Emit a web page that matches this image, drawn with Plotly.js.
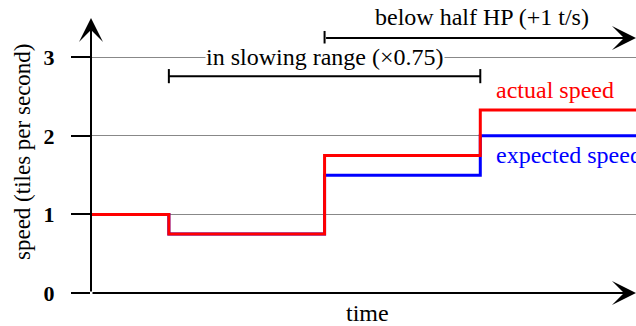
<!DOCTYPE html>
<html><head><meta charset="utf-8">
<script src="https://cdn.plot.ly/plotly-3.0.1.min.js"></script>
<style>html,body{margin:0;padding:0;background:#fff}#chart{width:636px;height:326px}</style>
</head><body><div id="chart"></div>
<script>
var timeSteps = [0, 1, 3, 5, 7];
var actualSpeed = [1, 0.75, 1.75, 2.33, 2.33];
var expectedSpeed = [1, 0.75, 1.5, 2, 2];
var yTicks = [0, 1, 2, 3];
var yTickText = ['0', '1', '2', '3'];
var slowStart = 1, slowEnd = 5;
var halfHpStart = 3, halfHpEnd = 7;

var F = 'Liberation Serif, Times New Roman, serif';
var traces = [
  {x: timeSteps, y: expectedSpeed, mode: 'lines', line: {shape: 'hv', color: '#0000ff', width: 3}, hoverinfo: 'skip'},
  {x: timeSteps, y: actualSpeed, mode: 'lines', line: {shape: 'hv', color: '#ff0000', width: 3}, hoverinfo: 'skip'}
];
var slowY = 2.76, hpY = 3.245, cap = 0.09;
var shapes = [
  {type: 'line', xref: 'x', yref: 'y', x0: slowStart, x1: slowEnd, y0: slowY, y1: slowY, line: {color: '#000', width: 2}},
  {type: 'line', xref: 'x', yref: 'y', x0: slowStart, x1: slowStart, y0: slowY - cap, y1: slowY + cap, line: {color: '#000', width: 2}},
  {type: 'line', xref: 'x', yref: 'y', x0: slowEnd, x1: slowEnd, y0: slowY - cap, y1: slowY + cap, line: {color: '#000', width: 2}},
  {type: 'line', xref: 'x', yref: 'y', x0: halfHpStart, x1: halfHpStart, y0: hpY - cap, y1: hpY + cap, line: {color: '#000', width: 2}}
];
function px2x(p) { return (p - 91) / 545; }
function px2y(p) { return (293 - p) / 275; }
var annotations = [
  {x: 7, y: 0, ax: 0, ay: 0, xref: 'x', yref: 'y', axref: 'x', ayref: 'y', text: '', showarrow: true, arrowhead: 3, arrowwidth: 2, arrowsize: 2, arrowcolor: '#000', standoff: 0},
  {x: 0, y: 3.5, ax: 0, ay: 0, xref: 'x', yref: 'y', axref: 'x', ayref: 'y', text: '', showarrow: true, arrowhead: 3, arrowwidth: 2, arrowsize: 2, arrowcolor: '#000', standoff: 0},
  {x: halfHpEnd, y: hpY, ax: halfHpStart, ay: hpY, xref: 'x', yref: 'y', axref: 'x', ayref: 'y', text: '', showarrow: true, arrowhead: 3, arrowwidth: 2, arrowsize: 2, arrowcolor: '#000', standoff: 0},
  {x: 3, y: 3, xref: 'x', yref: 'y', text: 'in slowing range (×0.75)', showarrow: false, bgcolor: '#fff', borderpad: 0, font: {family: F, size: 24, color: '#000'}},
  {x: px2x(482), y: px2y(17), xref: 'paper', yref: 'paper', xanchor: 'center', yanchor: 'middle', text: 'below half HP (+1 t/s)', showarrow: false, font: {family: F, size: 24, color: '#000'}},
  {x: 5.17, y: 2.58, xref: 'x', yref: 'y', xanchor: 'left', text: 'actual speed', showarrow: false, font: {family: F, size: 24, color: '#ff0000'}},
  {x: 5.17, y: 1.756, xref: 'x', yref: 'y', xanchor: 'left', text: 'expected speed', showarrow: false, font: {family: F, size: 24, color: '#0000ff'}},
  {x: px2x(367), y: px2y(313), xref: 'paper', yref: 'paper', xanchor: 'center', yanchor: 'middle', text: 'time', showarrow: false, font: {family: F, size: 24, color: '#000'}},
  {x: px2x(22), y: px2y(152), xref: 'paper', yref: 'paper', xanchor: 'center', yanchor: 'middle', text: 'speed (tiles per second)', showarrow: false, textangle: -90, font: {family: F, size: 23, color: '#000'}}
];

var layout = {
  width: 636, height: 326,
  margin: {l: 91, r: 0, t: 18, b: 33, pad: 0},
  paper_bgcolor: '#fff', plot_bgcolor: '#fff',
  showlegend: false,
  xaxis: {range: [0, 7], showgrid: false, zeroline: false, showline: false, showticklabels: false, ticks: '', fixedrange: true},
  yaxis: {range: [0, 3.5], tickvals: yTicks, ticktext: yTickText, ticks: 'outside', ticklen: 19, tickwidth: 2, tickcolor: '#000',
    showgrid: true, gridcolor: '#888', gridwidth: 1, zeroline: false, showline: false, ticklabelstandoff: 12,
    tickfont: {family: F, size: 22, color: '#000', weight: 'bold'}, fixedrange: true},
  shapes: shapes,
  annotations: annotations
};
Plotly.newPlot('chart', traces, layout, {displayModeBar: false, staticPlot: true});
</script></body></html>
